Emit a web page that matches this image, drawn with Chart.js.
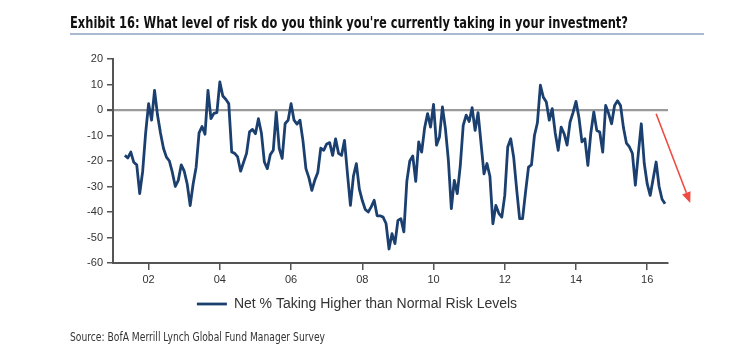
<!DOCTYPE html>
<html>
<head>
<meta charset="utf-8">
<script src="https://cdn.jsdelivr.net/npm/chart.js@4.4.1/dist/chart.umd.min.js"></script>
<style>
  html, body { margin: 0; padding: 0; background: #fff; }
  body { width: 732px; height: 362px; position: relative; overflow: hidden; }
  #wrap { position: absolute; left: 0; top: 0; width: 732px; height: 362px; }
  #title {
    position: absolute; left: 70px; top: 14px; white-space: nowrap; transform-origin: 0 0;
    font-family: 'Liberation Sans Narrow', 'DejaVu Sans Condensed', sans-serif;
    font-weight: bold; font-size: 15px; color: #111;
  }
  #rule { position: absolute; left: 70px; top: 33px; width: 634px; height: 2px; background: #a9b9cf; }
  #source {
    position: absolute; left: 70px; top: 330px; white-space: nowrap; transform-origin: 0 0;
    font-family: 'Liberation Sans Narrow', 'DejaVu Sans Condensed', sans-serif;
    font-size: 12px; color: #333;
  }
</style>
</head>
<body>
<div id="wrap"><canvas id="riskChart"></canvas></div>
<div id="title">Exhibit 16: What level of risk do you think you're currently taking in your investment?</div>
<div id="rule"></div>
<div id="source">Source: BofA Merrill Lynch Global Fund Manager Survey</div>
<script>
// monthly survey readings, May 2001 .. Jul 2016 (x = months since Jan 2001)
const firstMonth = 4;
const netRisk = [
  -17.8, -18.8, -16.5, -20.5, -21.5, -32.8, -24, -9,
  2.5, -4, 7.7, -2, -9, -15, -18.5, -20, -24.5, -30, -27.6, -21.5,
  -24, -29, -37.5, -29, -22.5, -9, -6.5, -9.5, 7.7, -3.4, -1.3, -1,
  11, 5.5, 4.2, 2.5, -16.5, -17, -18.4, -24, -20.5, -17, -8.6, -7.6,
  -9.3, -3.4, -9, -20.4, -23, -17.5, -15.8, -0.8, -15, -19, -5.3, -4,
  2.5, -4, -5.5, -4, -12, -23, -26.5, -31.5, -27.5, -24.5, -15, -15.8,
  -13.3, -12.8, -17.8, -11.3, -17, -17.8, -11.9, -25, -37.4, -26, -21, -31,
  -35.5, -39, -40, -38, -35.4, -41.5, -41.5, -42, -44.5, -54.5, -48.5, -52.4,
  -43.3, -42.6, -47.8, -28, -20, -18, -28, -12.5, -16.5, -7, -1.4, -6.7,
  2.2, -13.8, -10.6, 1.2, -7.3, -19.7, -38.7, -27.6, -32.8, -22, -6, -2,
  -4.5, 0.9, -8, -1, -13, -25, -21, -26, -44.6, -37.4, -40.5, -42,
  -33.5, -14.5, -11.3, -18.5, -31, -42.6, -42.6, -32.2, -22.4, -21.5, -10, -5,
  9.7, 5, 3.1, -4, 0.5, -9, -15.8, -6.7, -9.3, -13.8, -4.7, -1,
  3.4, -3, -12.5, -11.3, -21.7, -9, -0.8, -8, -8.6, -16.5, 1.8, -1.4,
  -5.4, 1.8, 3.6, 1.8, -7, -13, -14.5, -17, -29.5, -17, -5.4, -21,
  -29, -33.5, -27, -20.4, -30, -35, -36.8
];
const yearTicks = ['02', '04', '06', '08', '10', '12', '14', '16'];
const yTicks = [20, 10, 0, -10, -20, -30, -40, -50, -60];
// red "falling" arrow, in data units (month index, value)
const arrowFrom = { x: 183, y: -1.5 };
const arrowTo = { x: 194.5, y: -36.5 };

const points = netRisk.map((v, i) => ({ x: firstMonth + i, y: v }));

// squeeze the condensed captions to the reference widths
function fitWidth(id, w) {
    const el = document.getElementById(id);
    el.style.transform = 'scaleX(' + (w / el.getBoundingClientRect().width) + ')';
}
fitWidth('title', 558);
fitWidth('source', 255);

const arrowPlugin = {
    id: 'arrow',
    afterDraw(chart) {
        const { ctx, scales: { x, y } } = chart;
        const x1 = x.getPixelForValue(arrowFrom.x), y1 = y.getPixelForValue(arrowFrom.y);
        const x2 = x.getPixelForValue(arrowTo.x), y2 = y.getPixelForValue(arrowTo.y);
        const a = Math.atan2(y2 - y1, x2 - x1);
        const len = 11, half = 4.5;
        ctx.save();
        ctx.strokeStyle = '#ef4b43';
        ctx.fillStyle = '#ef4b43';
        ctx.lineWidth = 1.6;
        ctx.beginPath();
        ctx.moveTo(x1, y1);
        ctx.lineTo(x2 - Math.cos(a) * len, y2 - Math.sin(a) * len);
        ctx.stroke();
        ctx.beginPath();
        ctx.moveTo(x2, y2);
        ctx.lineTo(x2 - Math.cos(a) * len + Math.sin(a) * half, y2 - Math.sin(a) * len - Math.cos(a) * half);
        ctx.lineTo(x2 - Math.cos(a) * len - Math.sin(a) * half, y2 - Math.sin(a) * len + Math.cos(a) * half);
        ctx.closePath();
        ctx.fill();
        ctx.restore();
    }
};

new Chart(document.getElementById('riskChart').getContext('2d'), {
    type: 'line',
    data: {
        datasets: [{
            label: 'Net % Taking Higher than Normal Risk Levels',
            data: points,
            borderColor: '#1b4070',
            backgroundColor: '#1b4070',
            borderWidth: 2.8,
            borderJoinStyle: 'round',
            pointRadius: 0,
            tension: 0,
            fill: false
        }]
    },
    options: {
        responsive: true,
        maintainAspectRatio: false,
        animation: false,
        layout: { padding: { left: 46, right: 64, top: 59, bottom: 41 } },
        plugins: {
            legend: {
                position: 'bottom',
                labels: {
                    usePointStyle: true,
                    pointStyle: 'line',
                    pointStyleWidth: 30,
                    padding: 10,
                    color: '#333',
                    font: { family: 'Arial', size: 14 }
                }
            },
            tooltip: { enabled: false }
        },
        scales: {
            x: {
                type: 'linear',
                min: 0,
                max: 187,
                afterFit(scale) { scale.height = 24; },
                afterBuildTicks(scale) {
                    scale.ticks = yearTicks.map(t => ({ value: (2000 + Number(t) - 2001) * 12 }));
                },
                border: { display: true, color: '#555', width: 2 },
                grid: { drawOnChartArea: false, drawTicks: true, tickLength: 7, color: '#555', lineWidth: 1.5 },
                ticks: {
                    padding: 3,
                    color: '#333',
                    font: { family: 'Arial', size: 11 },
                    maxRotation: 0,
                    callback: (v) => yearTicks[(v / 12 - 1) / 2]
                }
            },
            y: {
                min: -60,
                max: 20,
                afterFit(scale) { scale.width = 67; },
                afterBuildTicks(scale) {
                    scale.ticks = yTicks.map(v => ({ value: v }));
                },
                border: { display: true, color: '#555', width: 2 },
                grid: {
                    drawTicks: true,
                    tickLength: 6,
                    tickColor: '#555',
                    color: (c) => (c.tick && c.tick.value === 0 ? '#9a9a9a' : 'transparent'),
                    lineWidth: (c) => (c.tick && c.tick.value === 0 ? 2.2 : 1.5)
                },
                ticks: {
                    padding: 4,
                    color: '#333',
                    font: { family: 'Arial', size: 11 }
                }
            }
        }
    },
    plugins: [arrowPlugin]
});
</script>
</body>
</html>
